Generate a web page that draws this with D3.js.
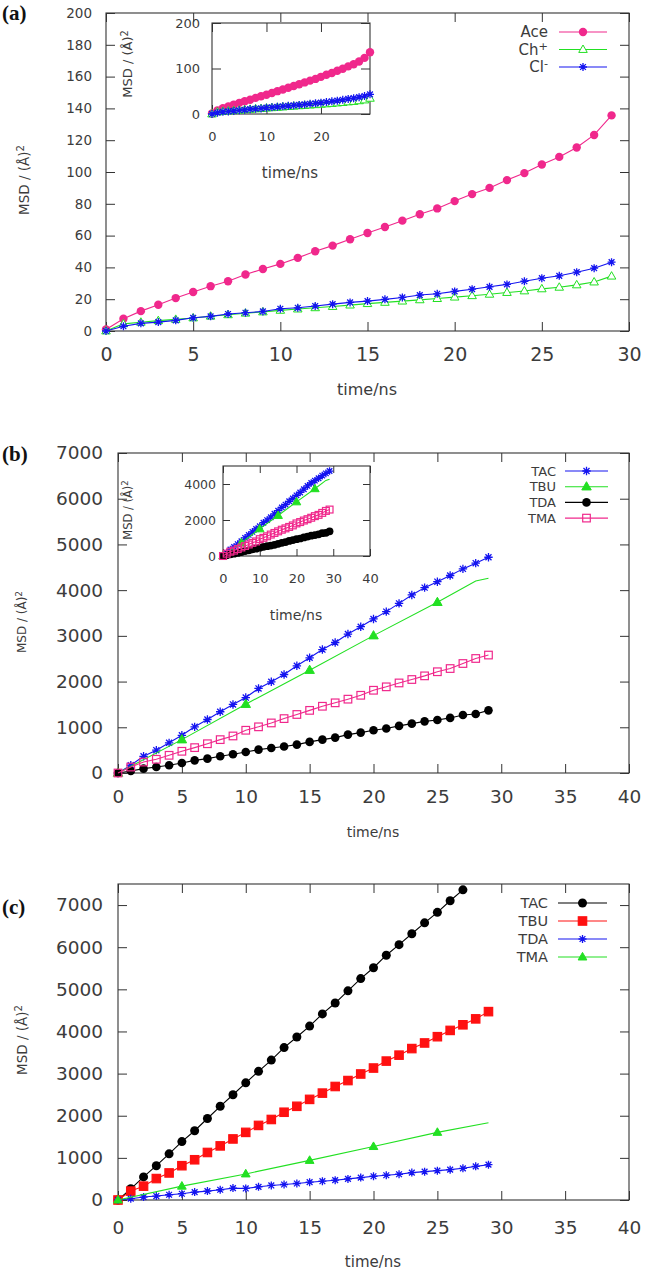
<!DOCTYPE html>
<html>
<head>
<meta charset="utf-8">
<script src="https://cdn.jsdelivr.net/npm/d3@7"></script>
<style>
body { margin: 0; background: #fff; }
svg text { font-family: "DejaVu Sans", sans-serif; fill: #3c3c3c; }
</style>
</head>
<body>
<script>
// ---- data ----
const timeNs = [0,1,2,3,4,5,6,7,8,9,10,11,12,13,14,15,16,17,18,19,20,21,22,23,24,25,26,27,28,29];

// (a)
const aceMsd = [1,7.7,12.5,16.5,20.7,24.5,28.2,31.3,35.5,39,42.2,46,50.2,53.7,57.7,61.6,65.4,69.4,73.4,77.1,81.7,86.1,90,94.9,99.3,104.7,109.5,115.4,123.3,135.6];
const chMsd = [0,4.5,5.5,6.5,7.3,8.2,9.3,10.2,11.2,12,13,13.8,14.6,15.4,16.3,17.2,18,18.8,19.6,20.4,21.3,22.2,23.1,24.2,25.2,26.5,27.5,29,30.8,34.5];
const clMsd = [0,3,4.8,5.6,6.7,8.3,9.2,10.7,11.5,12.3,14,14.6,15.7,16.9,18,18.8,19.9,21.1,22.6,23.4,24.9,26.3,27.8,29.3,31.3,33.2,34.7,37,39.5,43.3];

// (b)
const tacB = [0,170,365,500,660,825,1010,1170,1340,1500,1650,1850,1995,2155,2345,2520,2700,2855,3040,3200,3370,3530,3710,3895,4055,4185,4320,4465,4590,4720];
const tbuBTime = [0,5,10,15,20,25,28,29];
const tbuB = [0,730,1505,2250,3005,3735,4200,4260];
const tdaB = [0,45,95,131,168,219,277,314,365,409,460,511,548,580,621,680,730,774,840,884,935,972,1030,1080,1130,1160,1205,1270,1290,1370];
const tmaB = [0,130,240,300,387,475,555,640,730,810,935,1010,1095,1190,1280,1370,1460,1535,1615,1700,1810,1885,1970,2045,2125,2215,2285,2395,2505,2580];

// (c)
const tacC = [0,266,548,814,1096,1386,1644,1934,2224,2498,2780,3054,3320,3618,3868,4127,4417,4675,4965,5255,5513,5810,6061,6319,6578,6828,7103,7361];
const tbuC = [0,211,329,509,642,814,955,1128,1284,1449,1605,1770,1911,2083,2224,2388,2537,2694,2835,2991,3132,3297,3438,3594,3727,3876,4025,4158,4299,4471];
const tdaC = [0,31,70,94,125,149,188,211,243,282,274,313,345,368,392,423,446,470,501,532,564,587,611,650,673,697,720,752,799,838];
const tmaCTime = [0,5,10,15,20,25,29];
const tmaC = [0,329,619,940,1269,1605,1832];

// tick labels
const ticksA_x = [0,5,10,15,20,25,30];
const ticksA_y = [0,20,40,60,80,100,120,140,160,180,200];
const ticksInsetA_x = [0,10,20];
const ticksInsetA_y = [0,100,200];
const ticksBC_x = [0,5,10,15,20,25,30,35,40];
const ticksBC_y = [0,1000,2000,3000,4000,5000,6000,7000];
const ticksInsetB_x = [0,10,20,30,40];
const ticksInsetB_y = [0,2000,4000];

const PINK = "#f0288c", GREEN = "#22e022", BLUE = "#1414f0", BLACK = "#000", RED = "#ff1010";

const svg = d3.select("body").append("svg")
    .attr("width", 645)
    .attr("height", 1273);

function pts(times, vals) {
    return vals.map((v, i) => ({t: times[i], v: v}));
}

function marker(g, type, x, y, s, color) {
    if (type === "circle") {
        g.append("circle").attr("cx", x).attr("cy", y).attr("r", s).attr("fill", color);
    } else if (type === "star") {
        const a = s * 0.72;
        g.append("path")
            .attr("d", `M${x - s},${y}L${x + s},${y}M${x},${y - s}L${x},${y + s}M${x - a},${y - a}L${x + a},${y + a}M${x - a},${y + a}L${x + a},${y - a}`)
            .attr("stroke", color).attr("stroke-width", 1.3).attr("fill", "none");
    } else if (type === "tri" || type === "triOpen") {
        g.append("path")
            .attr("d", `M${x},${y - s}L${x + s * 0.95},${y + s * 0.65}L${x - s * 0.95},${y + s * 0.65}Z`)
            .attr("fill", type === "tri" ? color : "#fff")
            .attr("stroke", color).attr("stroke-width", 1);
    } else if (type === "square" || type === "squareOpen") {
        g.append("rect").attr("x", x - s).attr("y", y - s).attr("width", 2 * s).attr("height", 2 * s)
            .attr("fill", type === "square" ? color : "none")
            .attr("stroke", color).attr("stroke-width", 1.2);
    }
}

const fmt = d3.format("d");

function drawAxes(g, x, y, o) {
    const w = x.range()[1], h = y.range()[0];
    g.append("rect").attr("width", w).attr("height", h).attr("fill", "#fff");
    const bottom = g.append("g").attr("transform", `translate(0,${h})`)
        .call(d3.axisBottom(x).tickValues(o.xTicks).tickFormat(fmt).tickSizeInner(-o.tick).tickSizeOuter(0).tickPadding(o.xPad));
    bottom.selectAll("text").style("font-size", o.xFont + "px");
    g.append("g")
        .call(d3.axisTop(x).tickValues(o.xTicks).tickSizeInner(-o.tick).tickSizeOuter(0).tickFormat(""));
    const left = g.append("g")
        .call(d3.axisLeft(y).tickValues(o.yTicks).tickFormat(fmt).tickSizeInner(-o.tick).tickSizeOuter(0).tickPadding(o.yPad));
    left.selectAll("text").style("font-size", o.yFont + "px");
    g.append("g").attr("transform", `translate(${w},0)`)
        .call(d3.axisRight(y).tickValues(o.yTicks).tickSizeInner(-o.tick).tickSizeOuter(0).tickFormat(""));
    g.selectAll(".domain").remove();
    g.selectAll(".tick line").attr("stroke", "#333");
    g.append("rect").attr("width", w).attr("height", h)
        .attr("fill", "none").attr("stroke", "#333").attr("stroke-width", 1.1);
}

function drawSeries(g, x, y, series, sizeScale = 1) {
    series.forEach(s => {
        g.append("path")
            .datum(s.data)
            .attr("fill", "none")
            .attr("stroke", s.color)
            .attr("stroke-width", 1.1)
            .attr("d", d3.line().x(d => x(d.t)).y(d => y(d.v)));
        const mg = g.append("g");
        s.data.forEach(d => {
            if (s.every && d.t % s.every !== 0) return;
            marker(mg, s.marker, x(d.t), y(d.v), s.size * sizeScale, s.color);
        });
    });
}

function yLabel(px, py, fs) {
    const t = svg.append("text")
        .attr("transform", `translate(${px},${py}) rotate(-90)`)
        .attr("text-anchor", "middle")
        .style("font-size", fs + "px");
    t.append("tspan").text("MSD / (Å)");
    t.append("tspan").attr("dy", "-0.45em").style("font-size", (fs * 0.75) + "px").text("2");
}

function xLabel(px, py, fs) {
    svg.append("text").attr("x", px).attr("y", py)
        .attr("text-anchor", "middle")
        .style("font-size", fs + "px")
        .text("time/ns");
}

function panelTag(label, py) {
    svg.append("text").attr("x", 2).attr("y", py)
        .style("font-family", "'Liberation Serif', 'DejaVu Serif', serif")
        .style("font-weight", "bold")
        .style("font-size", "21px")
        .style("fill", "#111")
        .text(label);
}

function legend(items, o) {
    items.forEach((s, i) => {
        const ly = o.y0 + i * o.dy;
        const t = svg.append("text").attr("x", o.textX).attr("y", ly + o.fs * 0.36)
            .attr("text-anchor", "end").style("font-size", o.fs + "px");
        t.append("tspan").text(s.name);
        if (s.sup) {
            t.append("tspan").attr("dy", "-0.45em").style("font-size", (o.fs * 0.75) + "px").text(s.sup);
        }
        svg.append("line").attr("x1", o.x1).attr("x2", o.x2).attr("y1", ly).attr("y2", ly)
            .attr("stroke", s.color).attr("stroke-width", 1.1);
        marker(svg, s.marker, (o.x1 + o.x2) / 2, ly, s.size, s.color);
    });
}

// ---------------- panel (a) ----------------
const seriesA = [
    {name: "Ace", data: pts(timeNs, aceMsd), color: PINK, marker: "circle", size: 4.2},
    {name: "Ch", sup: "+", data: pts(timeNs, chMsd), color: GREEN, marker: "triOpen", size: 4.5},
    {name: "Cl", sup: "-", data: pts(timeNs, clMsd), color: BLUE, marker: "star", size: 4}
];
{
    const g = svg.append("g").attr("transform", "translate(106,13)");
    const x = d3.scaleLinear().domain([0, 30]).range([0, 523]);
    const y = d3.scaleLinear().domain([0, 200]).range([318, 0]);
    drawAxes(g, x, y, {xTicks: ticksA_x, yTicks: ticksA_y, tick: 9, xPad: 17, yPad: 14, xFont: 19, yFont: 13.5});
    drawSeries(g, x, y, seriesA);

    const gi = svg.append("g").attr("transform", "translate(212,23)");
    const xi = d3.scaleLinear().domain([0, 29]).range([0, 158]);
    const yi = d3.scaleLinear().domain([0, 200]).range([91, 0]);
    drawAxes(gi, xi, yi, {xTicks: ticksInsetA_x, yTicks: ticksInsetA_y, tick: 9, xPad: 18, yPad: 12, xFont: 13, yFont: 13});
    drawSeries(gi, xi, yi, seriesA, 1);

    panelTag("(a)", 20);
    yLabel(29, 180, 13.5);
    xLabel(367, 395, 16);
    yLabel(132, 64, 13);
    xLabel(290, 178, 15);
    legend(seriesA, {y0: 32, dy: 17.5, textX: 548, x1: 559, x2: 607, fs: 15});
}

// ---------------- panel (b) ----------------
const seriesB = [
    {name: "TAC", data: pts(timeNs, tacB), color: BLUE, marker: "star", size: 4.2},
    {name: "TBU", data: pts(tbuBTime, tbuB), color: GREEN, marker: "tri", size: 5, every: 5},
    {name: "TDA", data: pts(timeNs, tdaB), color: BLACK, marker: "circle", size: 4.3},
    {name: "TMA", data: pts(timeNs, tmaB), color: PINK, marker: "squareOpen", size: 3.8}
];
{
    const g = svg.append("g").attr("transform", "translate(118,453)");
    const x = d3.scaleLinear().domain([0, 40]).range([0, 511]);
    const y = d3.scaleLinear().domain([0, 7000]).range([320, 0]);
    drawAxes(g, x, y, {xTicks: ticksBC_x, yTicks: ticksBC_y, tick: 9, xPad: 17, yPad: 15, xFont: 18.5, yFont: 18.5});
    drawSeries(g, x, y, seriesB);

    const gi = svg.append("g").attr("transform", "translate(223,466)");
    const xi = d3.scaleLinear().domain([0, 40]).range([0, 147]);
    const yi = d3.scaleLinear().domain([0, 5000]).range([90, 0]);
    drawAxes(gi, xi, yi, {xTicks: ticksInsetB_x, yTicks: ticksInsetB_y, tick: 7, xPad: 18, yPad: 7, xFont: 13, yFont: 12.5});
    drawSeries(gi, xi, yi, seriesB, 0.9);

    panelTag("(b)", 461);
    yLabel(26, 622, 12);
    xLabel(373, 837, 14);
    yLabel(132, 510, 11.5);
    xLabel(296, 620, 14);
    legend(seriesB, {y0: 471, dy: 15.7, textX: 556, x1: 565, x2: 608, fs: 13});
}

// ---------------- panel (c) ----------------
const seriesC = [
    {name: "TAC", data: pts(timeNs, tacC), color: BLACK, marker: "circle", size: 4.5},
    {name: "TBU", data: pts(timeNs, tbuC), color: RED, marker: "square", size: 4.2},
    {name: "TDA", data: pts(timeNs, tdaC), color: BLUE, marker: "star", size: 4},
    {name: "TMA", data: pts(tmaCTime, tmaC), color: GREEN, marker: "tri", size: 4.6, every: 5}
];
{
    const g = svg.append("g").attr("transform", "translate(118,884)");
    const x = d3.scaleLinear().domain([0, 40]).range([0, 511]);
    const y = d3.scaleLinear().domain([0, 7500]).range([316, 0]);
    drawAxes(g, x, y, {xTicks: ticksBC_x, yTicks: ticksBC_y, tick: 9, xPad: 21, yPad: 15, xFont: 18.5, yFont: 18.5});
    drawSeries(g, x, y, seriesC);

    panelTag("(c)", 914);
    yLabel(27, 1040, 13.5);
    xLabel(373, 1267, 15);
    legend(seriesC, {y0: 903, dy: 18, textX: 548, x1: 558, x2: 607, fs: 14.5});
}
</script>
</body>
</html>
